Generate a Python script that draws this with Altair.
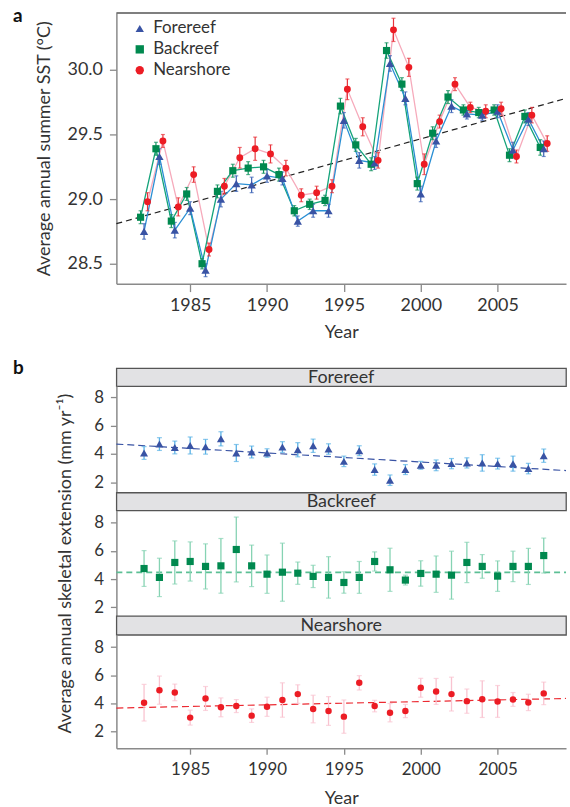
import altair as alt
import pandas as pd

# ---------------- data ----------------
years = list(range(1982, 2009))
series_names = ["Forereef", "Backreef", "Nearshore"]

# panel a: average annual summer SST (deg C)
sst_forereef = [28.75, 29.33, 28.76, 28.93, 28.45, 29.00, 29.12, 29.11, 29.18, 29.16, 28.83, 28.91, 28.91,
                29.61, 29.30, 29.28, 30.05, 29.78, 29.04, 29.45, 29.72, 29.66, 29.65, 29.68, 29.38, 29.62, 29.39]
sst_backreef = [28.86, 29.39, 28.83, 29.04, 28.50, 29.06, 29.22, 29.24, 29.25, 29.19, 28.91, 28.96, 28.99,
                29.72, 29.42, 29.27, 30.15, 29.89, 29.12, 29.51, 29.79, 29.69, 29.67, 29.69, 29.34, 29.64, 29.40]
sst_nearshore = [28.98, 29.45, 28.94, 29.19, 28.61, 29.10, 29.32, 29.39, 29.35, 29.24, 29.03, 29.05, 29.10,
                 29.85, 29.56, 29.30, 30.31, 30.02, 29.27, 29.60, 29.89, 29.71, 29.68, 29.70, 29.33, 29.65, 29.43]
sst_err_forereef = [0.06, 0.06, 0.06, 0.05, 0.05, 0.06, 0.06, 0.06, 0.05, 0.05, 0.04, 0.05, 0.05,
                    0.06, 0.06, 0.05, 0.06, 0.05, 0.06, 0.05, 0.05, 0.04, 0.04, 0.05, 0.06, 0.05, 0.06]
sst_err_backreef = [0.05, 0.05, 0.05, 0.05, 0.04, 0.05, 0.05, 0.05, 0.05, 0.05, 0.04, 0.04, 0.04,
                    0.06, 0.05, 0.05, 0.06, 0.05, 0.05, 0.05, 0.05, 0.04, 0.04, 0.04, 0.05, 0.05, 0.06]
sst_err_nearshore = [0.07, 0.05, 0.07, 0.06, 0.05, 0.06, 0.08, 0.09, 0.07, 0.06, 0.05, 0.05, 0.05,
                     0.08, 0.07, 0.06, 0.09, 0.07, 0.08, 0.05, 0.05, 0.04, 0.05, 0.05, 0.05, 0.06, 0.06]
sst_trend_years = [1980.2, 2009.45]
sst_trend_vals = [28.81, 29.78]

# panel b: average annual skeletal extension (mm/yr)
ext_forereef = [4.07, 4.70, 4.46, 4.60, 4.51, 5.07, 4.07, 4.14, 4.07, 4.49, 4.30, 4.58, 4.35,
                3.48, 4.23, 2.90, 2.15, 2.90, 3.20, 3.20, 3.32, 3.37, 3.37, 3.32, 3.32, 2.97, 3.88]
ext_err_forereef = [0.45, 0.45, 0.45, 0.60, 0.52, 0.50, 0.60, 0.42, 0.30, 0.38, 0.50, 0.47, 0.37,
                    0.37, 0.35, 0.40, 0.37, 0.35, 0.28, 0.38, 0.36, 0.36, 0.58, 0.38, 0.53, 0.37, 0.47]
ext_backreef = [4.75, 4.12, 5.18, 5.25, 4.90, 4.94, 6.10, 4.94, 4.35, 4.49, 4.42, 4.19, 4.12,
                3.76, 4.12, 5.25, 4.66, 3.93, 4.40, 4.35, 4.28, 5.18, 4.90, 4.21, 4.90, 4.90, 5.67]
ext_err_backreef = [1.27, 1.36, 1.53, 1.39, 1.60, 1.94, 2.30, 1.47, 1.36, 2.06, 0.79, 0.79, 1.47,
                    0.76, 1.13, 0.68, 1.53, 0.35, 0.90, 1.29, 1.70, 1.43, 0.84, 1.08, 1.08, 1.28, 1.24]
ext_nearshore = [4.05, 4.94, 4.78, 2.99, 4.35, 3.72, 3.81, 3.13, 3.76, 4.24, 4.66, 3.60, 3.46,
                 3.06, 5.46, 3.81, 3.34, 3.46, 5.11, 4.85, 4.66, 4.16, 4.30, 4.14, 4.28, 4.07, 4.71]
ext_err_nearshore = [1.30, 1.00, 0.59, 0.53, 0.85, 0.67, 0.46, 0.48, 0.68, 1.22, 0.66, 0.98, 1.02,
                     1.18, 0.51, 0.41, 0.65, 0.47, 0.67, 0.92, 1.20, 0.86, 1.30, 1.13, 0.49, 0.58, 0.80]
ext_trend_years = [1980.2, 2009.45]
ext_trend_forereef = [4.70, 2.83]
ext_trend_backreef = [4.47, 4.47]
ext_trend_nearshore = [3.67, 4.35]

x_ticks = [1985, 1990, 1995, 2000, 2005]
sst_ticks = [28.5, 29.0, 29.5, 30.0]
ext_ticks = [2, 4, 6, 8]

# ---------------- styling ----------------
W = 452
FONT = "Lato"
XDOM = [1980.2, 2009.45]
marker_colors = ["#3953a4", "#00894f", "#ec1c24"]
shapes = ["triangle-up", "square", "circle"]

sst_df = pd.DataFrame({
    "year": years * 3,
    "series": sum([[n] * len(years) for n in series_names], []),
    "val": sst_forereef + sst_backreef + sst_nearshore,
    "err": sst_err_forereef + sst_err_backreef + sst_err_nearshore,
})
sst_trend_df = pd.DataFrame({"year": sst_trend_years, "val": sst_trend_vals})


def xa(field="year"):
    return alt.X(f"{field}:Q", scale=alt.Scale(domain=XDOM, nice=False, zero=False),
                 axis=alt.Axis(values=x_ticks, format="d", title="Year", tickSize=8,
                               labelPadding=5, titlePadding=9))


def ya(field):
    return alt.Y(f"{field}:Q", scale=alt.Scale(domain=[28.346, 30.44], nice=False, zero=False),
                 axis=alt.Axis(values=sst_ticks, format=".1f", title="Average annual summer SST (°C)",
                               tickSize=7, labelPadding=7, titlePadding=14))


# panel a
a_layers = []
border_df = pd.DataFrame({"k": [0]})
a_layers.append(alt.Chart(border_df).mark_rule(color="#555", strokeWidth=1.5).encode(
    x=alt.value(0), x2=alt.value(W), y=alt.value(0)))
a_layers.append(alt.Chart(sst_trend_df).mark_line(color="#222", strokeDash=[6, 4], strokeWidth=1.2).encode(
    x=xa(), y=ya("val")))

line_cfg = {
    "Nearshore": ("#f6aabb", 3.5),
    "Backreef": ("#14a37a", -3.5),
    "Forereef": ("#2a8fd4", 0),
}
err_cfg = {"Forereef": "#3a62b5", "Backreef": "#12925f", "Nearshore": "#e8333b"}
for name in ["Nearshore", "Backreef", "Forereef"]:
    col, dx = line_cfg[name]
    a_layers.append(alt.Chart(sst_df).transform_filter(alt.datum.series == name).mark_line(
        color=col, strokeWidth=1.3, xOffset=dx).encode(x=xa(), y=ya("val")))
for name in ["Nearshore", "Backreef", "Forereef"]:
    _, dx = line_cfg[name]
    base = alt.Chart(sst_df).transform_filter(alt.datum.series == name).transform_calculate(
        lo="datum.val - datum.err", hi="datum.val + datum.err")
    a_layers.append(base.mark_rule(color=err_cfg[name], strokeWidth=1.2, xOffset=dx).encode(
        x=xa(), y=ya("lo"), y2="hi:Q"))
    a_layers.append(base.mark_tick(orient="horizontal", size=4, thickness=1.2, color=err_cfg[name],
                                   xOffset=dx).encode(x=xa(), y=ya("lo")))
    a_layers.append(base.mark_tick(orient="horizontal", size=4, thickness=1.2, color=err_cfg[name],
                                   xOffset=dx).encode(x=xa(), y=ya("hi")))

legend = alt.Legend(title=None, orient="none", legendX=15, legendY=7, labelOffset=5, rowPadding=3,
                    symbolSize=70, symbolStrokeWidth=0, labelFontSize=17, labelFont=FONT, labelColor="#333")
sizes = {"Backreef": 52, "Forereef": 70, "Nearshore": 48}
for name in ["Backreef", "Forereef", "Nearshore"]:
    _, dx = line_cfg[name]
    a_layers.append(alt.Chart(sst_df).transform_filter(alt.datum.series == name).mark_point(
        filled=True, opacity=1, size=sizes[name], xOffset=dx).encode(
        x=xa(), y=ya("val"),
        color=alt.Color("series:N", scale=alt.Scale(domain=series_names, range=marker_colors), legend=legend),
        shape=alt.Shape("series:N", scale=alt.Scale(domain=series_names, range=shapes), legend=legend)))

lab_a = pd.DataFrame({"t": ["a"]})
a_layers.append(alt.Chart(lab_a).mark_text(font=FONT, fontSize=19, fontWeight="bold", color="#111",
                                            align="left", baseline="alphabetic").encode(
    text="t:N", x=alt.value(-104), y=alt.value(9)))

panel_a = alt.layer(*a_layers).properties(width=W, height=272)

spacer = alt.Chart(pd.DataFrame({"t": [""]})).mark_text().encode(
    text="t:N", x=alt.value(0), y=alt.value(0)).properties(width=W, height=85)


def header(label, h, with_b=False):
    layers = [alt.Chart(pd.DataFrame({"t": [label]})).mark_text(
        font=FONT, fontSize=18, color="#333", align="center", baseline="middle").encode(
        text="t:N", x=alt.value(W / 2), y=alt.value(h / 2 + 0.5))]
    if with_b:
        layers.append(alt.Chart(pd.DataFrame({"t": ["b"]})).mark_text(
            font=FONT, fontSize=19, fontWeight="bold", color="#111", align="left",
            baseline="alphabetic").encode(text="t:N", x=alt.value(-104), y=alt.value(6)))
    return alt.layer(*layers).properties(
        width=W, height=h, view=alt.ViewBackground(fill="#e2e2e4", stroke="#555", strokeWidth=1.3))


def panel_b(vals, errs, trend, mcolor, shape, size, ecolor, tcolor, twidth, tdash, ydom, h, show_x, ytitle):
    df = pd.DataFrame({"year": years, "val": vals, "err": errs})
    tdf = pd.DataFrame({"year": ext_trend_years, "val": trend})
    if show_x:
        xaxis = alt.Axis(values=x_ticks, format="d", title="Year", tickSize=6, labelPadding=7,
                         titlePadding=13, labelFontSize=17)
    else:
        xaxis = None
    yaxis_kw = dict(values=ext_ticks, format="d", tickSize=6, labelPadding=7, labelFontSize=17)
    if ytitle:
        yaxis = alt.Axis(title=ytitle, titlePadding=19, **yaxis_kw)
    else:
        yaxis = alt.Axis(title=None, **yaxis_kw)

    def xb(f="year"):
        return alt.X(f"{f}:Q", scale=alt.Scale(domain=XDOM, nice=False, zero=False), axis=xaxis)

    def yb(f):
        return alt.Y(f"{f}:Q", scale=alt.Scale(domain=ydom, nice=False, zero=False), axis=yaxis)

    base = alt.Chart(df).transform_calculate(lo="datum.val - datum.err", hi="datum.val + datum.err")
    layers = [
        alt.Chart(tdf).mark_line(color=tcolor, strokeWidth=twidth, strokeDash=tdash).encode(x=xb(), y=yb("val")),
        base.mark_rule(color=ecolor, strokeWidth=1.3).encode(x=xb(), y=yb("lo"), y2="hi:Q"),
        base.mark_tick(orient="horizontal", size=5, thickness=1.2, color=ecolor).encode(x=xb(), y=yb("lo")),
        base.mark_tick(orient="horizontal", size=5, thickness=1.2, color=ecolor).encode(x=xb(), y=yb("hi")),
        alt.Chart(df).mark_point(filled=True, opacity=1, shape=shape, size=size, color=mcolor).encode(
            x=xb(), y=yb("val")),
    ]
    return alt.layer(*layers).properties(width=W, height=h)


p1 = panel_b(ext_forereef, ext_err_forereef, ext_trend_forereef, "#3953a4", "triangle-up", 65,
             "#5ab2e6", "#3953a4", 1.2, [7, 4], [1.28, 8.79], 107, False, None)
p2 = panel_b(ext_backreef, ext_err_backreef, ext_trend_backreef, "#00894f", "square", 52,
             "#86d3b3", "#5cbf95", 1.8, [6, 4], [1.39, 8.87], 106, False,
             "Average annual skeletal extension (mm yr⁻¹)")
p3 = panel_b(ext_nearshore, ext_err_nearshore, ext_trend_nearshore, "#ec1c24", "circle", 42,
             "#f9c3d0", "#ec2a32", 1.2, [7, 4], [0.82, 8.87], 114, True, None)

chart = alt.vconcat(
    panel_a, spacer,
    header("Forereef", 18, True), p1,
    header("Backreef", 18), p2,
    header("Nearshore", 19), p3,
    spacing=0, bounds="flush",
).properties(
    padding={"left": 12, "top": 5, "right": 0, "bottom": 0}
).configure_view(strokeWidth=0).configure_axis(
    labelFont=FONT, titleFont=FONT, labelColor="#333", titleColor="#333",
    domainColor="#8a8a8a", tickColor="#8a8a8a", domainWidth=1.5, tickWidth=1.3,
    grid=False, titleFontWeight="normal", labelFontSize=18, titleFontSize=18,
).configure_legend(labelFont=FONT, labelFontSize=17, labelColor="#333")

chart.save("out.html", embed_options={"renderer": "svg", "actions": False})
